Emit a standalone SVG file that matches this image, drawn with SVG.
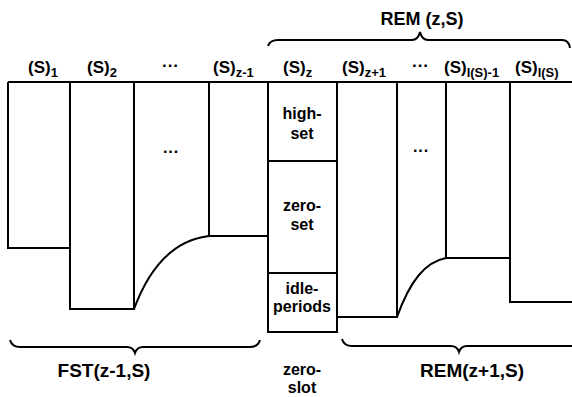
<svg xmlns="http://www.w3.org/2000/svg" width="572" height="397" viewBox="0 0 572 397">
<style>
.ln{fill:none;stroke:#000;stroke-width:2;stroke-linejoin:miter}
.t{font-family:"Liberation Sans",Arial,sans-serif;font-weight:bold;font-size:17px;fill:#000}
.b{font-family:"Liberation Sans",Arial,sans-serif;font-weight:bold;font-size:16px;fill:#000;text-anchor:middle}
.L{font-size:19px}
.m{font-size:18px}
.s{font-size:13px}
</style>
<rect width="572" height="397" fill="#fff"/>
<g id="connectors">
<path class="ln" d="M8,82 H572"/>
<path id="brace-rem-zs" class="ln" d="M268,46 Q270,40 278,40 H412 Q418,40 420,32 Q422,40 428,40 H562 Q569,40 570,48"/>
<path id="brace-fst" class="ln" d="M10,340 Q12,347 20,347 H127 Q133,347 135,353 Q137,347 143,347 H250 Q258,347 260,340"/>
<path id="brace-rem-z1" class="ln" d="M342,339 Q344,346 352,346 H451 Q457,346 459,352 Q461,346 467,346 H572"/>
</g>
<g id="col-1"><path class="ln" d="M8,82 V248 H70"/></g>
<g id="col-2"><path class="ln" d="M70,82 V309 H134 V82"/></g>
<g id="col-3"><path class="ln" d="M134,309 C150,266 175,240 209,236"/><text class="b" x="171" y="157">···</text></g>
<g id="col-4"><path class="ln" d="M209,82 V236 H268"/></g>
<g id="col-z">
<path class="ln" d="M268,82 V332 H337 V82"/>
<path class="ln" d="M268,161 H337 M268,273 H337"/>
<text class="b" x="302" y="119">high-</text><text class="b" x="302" y="139">set</text>
<text class="b" x="302" y="211">zero-</text><text class="b" x="302" y="230">set</text>
<text class="b" x="302" y="294">idle-</text><text class="b" x="302" y="312">periods</text>
</g>
<g id="col-6"><path class="ln" d="M337,317 H397 V82"/></g>
<g id="col-7"><path class="ln" d="M397,317 C410,281 425,262 446,258"/><text class="b" x="421" y="156">···</text></g>
<g id="col-8"><path class="ln" d="M446,82 V258 H510"/></g>
<g id="col-9"><path class="ln" d="M510,82 V302 H572"/></g>
<g id="labels">
<text class="t" x="28" y="73">(S)<tspan class="s" dy="4">1</tspan></text>
<text class="t" x="87" y="73">(S)<tspan class="s" dy="4">2</tspan></text>
<text class="t" x="162" y="71">···</text>
<text class="t" x="213" y="73">(S)<tspan class="s" dy="4">z-1</tspan></text>
<text class="t" x="283" y="73">(S)<tspan class="s" dy="4">z</tspan></text>
<text class="t" x="342" y="73">(S)<tspan class="s" dy="4">z+1</tspan></text>
<text class="t" x="412" y="71">···</text>
<text class="t" x="444" y="73">(S)<tspan class="s" dy="4">l(S)-1</tspan></text>
<text class="t" x="515" y="73">(S)<tspan class="s" dy="4">l(S)</tspan></text>
<text class="b m" x="422" y="25">REM (z,S)</text>
<text class="b L" x="104" y="377">FST(z-1,S)</text>
<text class="b L" x="472" y="377">REM(z+1,S)</text>
<text class="b" x="302" y="375">zero-</text>
<text class="b" x="302" y="393">slot</text>
</g>
</svg>
